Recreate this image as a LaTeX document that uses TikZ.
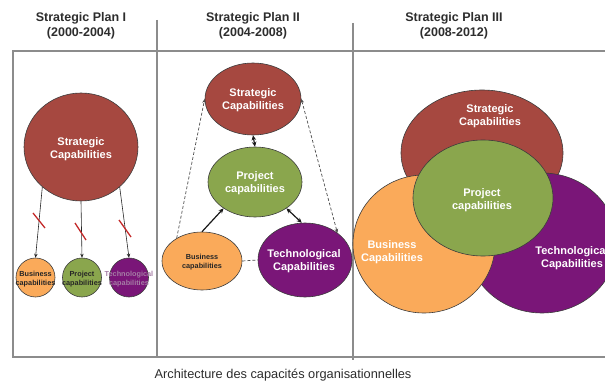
\documentclass[tikz,border=0pt]{standalone}
\usepackage{fontspec}
\setmainfont{Liberation Sans}
\usetikzlibrary{shapes.geometric,arrows.meta}
\definecolor{stratred}{RGB}{166,72,64}
\definecolor{projgreen}{RGB}{138,166,77}
\definecolor{busorange}{RGB}{250,170,90}
\definecolor{techpurple}{RGB}{122,22,120}
\definecolor{edgegray}{RGB}{60,60,60}
\definecolor{framegray}{RGB}{140,140,140}
\definecolor{titlegray}{RGB}{45,45,45}
\definecolor{slashred}{RGB}{195,40,40}
\definecolor{techtext}{RGB}{165,125,165}
\begin{document}
\begin{tikzpicture}[x=1pt,y=-1pt,
  blob/.style={ellipse, draw=edgegray, line width=0.6pt, inner sep=0pt},
  wlab/.style={text=white, font=\bfseries\fontsize{11}{13}\selectfont, align=center, inner sep=0pt},
  klab/.style={text=black!85, font=\bfseries\fontsize{7.3}{9}\selectfont, align=center, inner sep=0pt},
  frameline/.style={draw=framegray, line width=1.3pt},
  plantitle/.style={font=\bfseries\fontsize{12.5}{15}\selectfont, text=titlegray, align=center, inner sep=0pt},
  thinarrow/.style={-{Stealth[length=4pt,width=3.5pt]}, line width=0.6pt, draw=black!85},
  thickarrow/.style={{Stealth[length=5pt,width=4.5pt]}-{Stealth[length=5pt,width=4.5pt]}, line width=1.2pt, draw=black!90},
  thicksingle/.style={-{Stealth[length=5pt,width=4.5pt]}, line width=1.2pt, draw=black!90},
  dashline/.style={dashed, dash pattern=on 3pt off 2pt, line width=0.7pt, draw=black!70},
  dashtip/.style={-{Stealth[length=4pt,width=3.5pt]}},
  dashboth/.style={{Stealth[length=4pt,width=3.5pt]}-{Stealth[length=4pt,width=3.5pt]}},
  slash/.style={draw=slashred, line width=1.3pt}
]
\useasboundingbox (0,0) rectangle (605,382);

% frame
\draw[frameline] (615,51) -- (13,51) -- (13,357) -- (615,357);
\draw[frameline] (157,20) -- (157,358);
\draw[frameline] (353,23) -- (353,360);

% titles
\node[plantitle] (t1) at (81,26) {Strategic Plan I\\(2000-2004)};
\node[plantitle] (t2) at (253,26) {Strategic Plan II\\(2004-2008)};
\node[plantitle] (t3) at (454,26) {Strategic Plan III\\(2008-2012)};

% ---------- Panel 1
\node[blob, fill=stratred, minimum width=114pt, minimum height=108pt] (s1) at (81,147) {};
\node[wlab] (s1t) at (81,149) {Strategic\\Capabilities};
\node[blob, fill=busorange, minimum size=39pt] (b1) at (35.5,277.5) {};
\node[klab] (b1t) at (35.5,279.5) {Business\\capabilities};
\node[blob, fill=projgreen, minimum size=39pt] (p1) at (82,277.5) {};
\node[klab] (p1t) at (82,279.5) {Project\\capabilities};
\node[blob, fill=techpurple, minimum size=39pt] (tc1) at (129,277.5) {};
\node[klab, text=techtext] (tc1t) at (129,279.5) {Technological\\capabilities};

\draw[thinarrow] (s1.226) -- (b1.north);
\draw[thinarrow] (s1.south) -- (p1.north);
\draw[thinarrow] (s1.314) -- (tc1.north);
\draw[slash] (33,213) -- (45,228);
\draw[slash] (75,223) -- (86,240);
\draw[slash] (119,220) -- (131,237);

% ---------- Panel 2
\node[blob, fill=stratred, minimum width=96pt, minimum height=72pt] (s2) at (253,99) {};
\node[wlab] (s2t) at (253,100) {Strategic\\Capabilities};
\node[blob, fill=projgreen, minimum width=94pt, minimum height=70pt] (p2) at (255,182) {};
\node[wlab] (p2t) at (255,183) {Project\\capabilities};
\node[blob, fill=busorange, minimum width=80pt, minimum height=58pt] (b2) at (202,261) {};
\node[klab] (b2t) at (202,262) {Business\\capabilities};
\node[blob, fill=techpurple, minimum width=94pt, minimum height=74pt] (tc2) at (305,260) {};
\node[wlab] (tc2t) at (304,261) {Technological\\Capabilities};

\draw[thickarrow] (s2.south) -- (p2.north);
\draw[thicksingle] (b2.north) -- (p2.220);
\draw[thickarrow] (p2.-40) -- (tc2.95);
\draw[dashline, dashtip] (b2.138) -- (s2.180);
\draw[dashline, dashboth] (s2.0) -- (tc2.40);
\draw[dashline] (b2.east) -- (tc2.west);

% ---------- Panel 3
\node[blob, fill=stratred, minimum width=162pt, minimum height=126pt] (s3) at (482,153) {};
\node[blob, fill=techpurple, minimum width=150pt, minimum height=140pt] (tc3) at (542,243) {};
\node[blob, fill=busorange, minimum width=142pt, minimum height=138pt] (b3) at (424,244) {};
\node[blob, fill=projgreen, minimum width=140pt, minimum height=116pt] (p3) at (483,198) {};
\node[wlab] (s3t) at (490,116) {Strategic\\Capabilities};
\node[wlab] (p3t) at (482,200) {Project\\capabilities};
\node[wlab] (b3t) at (392,252) {Business\\Capabilities};
\node[wlab] (tc3t) at (572,258) {Technological\\Capabilities};

% caption
\node[font=\fontsize{12.8}{15}\selectfont, text=titlegray, inner sep=0pt] (cap) at (283,375) {Architecture des capacités organisationnelles};
\end{tikzpicture}
\end{document}
